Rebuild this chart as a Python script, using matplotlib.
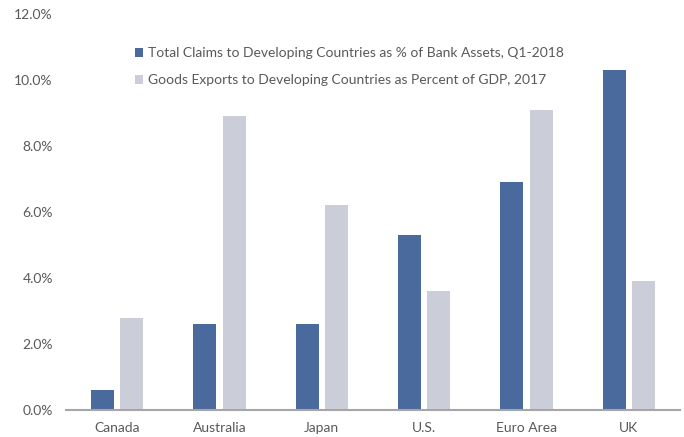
import matplotlib
matplotlib.use("Agg")
import matplotlib.pyplot as plt
import numpy as np
from matplotlib.ticker import FuncFormatter

categories = ["Canada", "Australia", "Japan", "U.S.", "Euro Area", "UK"]
claims = [0.6, 2.6, 2.6, 5.3, 6.9, 10.3]
exports = [2.8, 8.9, 6.2, 3.6, 9.1, 3.9]
series_labels = [
    "Total Claims to Developing Countries as % of Bank Assets, Q1-2018",
    "Goods Exports to Developing Countries as Percent of GDP, 2017",
]
yticks = [0, 2, 4, 6, 8, 10, 12]

plt.rcParams['font.family'] = ['Lato', 'DejaVu Sans']
text_color = "#595959"
blue = "#4A699C"
grey = "#CBCED8"

fig = plt.figure(figsize=(6.84, 4.37), dpi=100)
ax = fig.add_axes([66/684, 1 - 410/437, (680 - 66)/684, 396/437])

x = np.arange(len(categories))
w = 0.225
off = 0.142
ax.bar(x - off, claims, width=w, color=blue, label=series_labels[0])
ax.bar(x + off, exports, width=w, color=grey, label=series_labels[1])

ax.set_xlim(-0.5, len(categories) - 0.5)
ax.set_ylim(0, 12)
ax.set_yticks(yticks)
ax.yaxis.set_major_formatter(FuncFormatter(lambda v, p: f"{v:.1f}%"))
ax.set_xticks(x)
ax.set_xticklabels(categories)
ax.tick_params(axis='both', length=0, labelsize=10, colors=text_color)
ax.tick_params(axis='y', pad=9.5)
ax.tick_params(axis='x', pad=9)
for s in ['top', 'right', 'left']:
    ax.spines[s].set_visible(False)
ax.spines['bottom'].set_color("#A6A6A6")
ax.spines['bottom'].set_linewidth(1.5)

leg = fig.legend(loc='upper left', bbox_to_anchor=(135/684, 1 - 47/437),
                 frameon=False, fontsize=10, handlelength=0.6, handleheight=0.6,
                 handletextpad=0.3, labelspacing=1.1, borderpad=0, borderaxespad=0)
for t in leg.get_texts():
    t.set_color(text_color)

fig.savefig("out.png", dpi=100)
